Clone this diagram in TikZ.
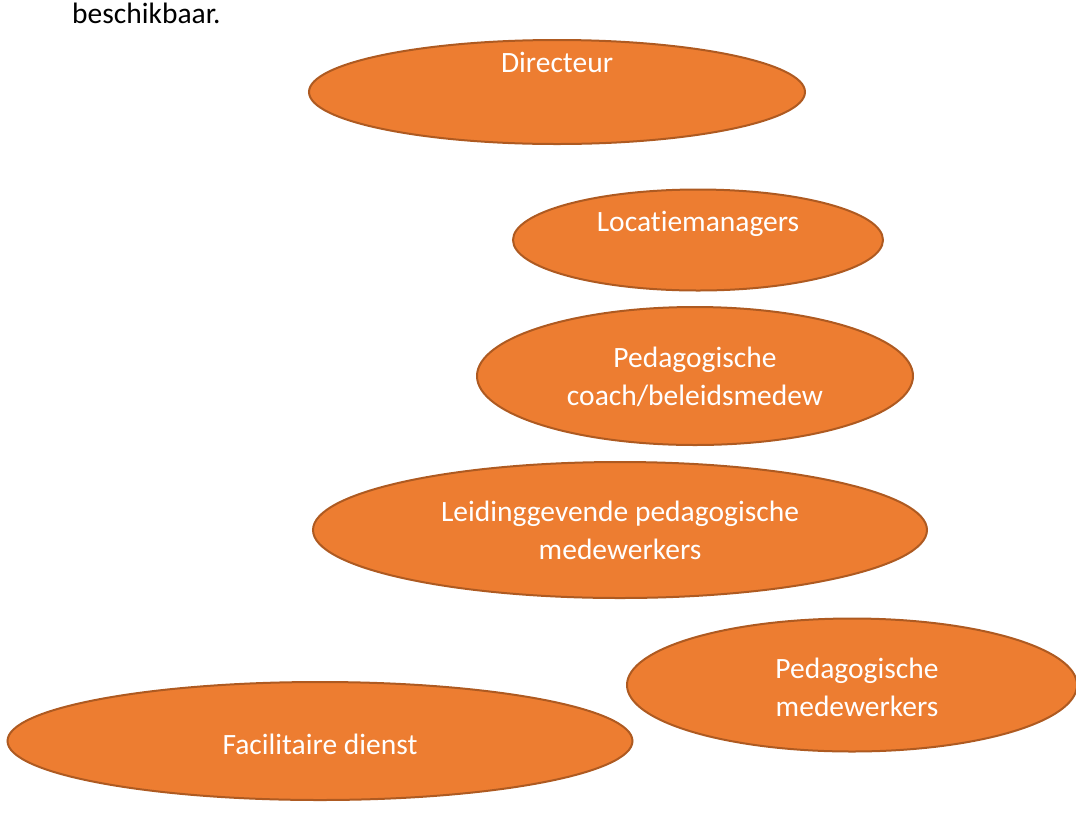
\documentclass[tikz,border=0pt]{standalone}
\usepackage{fontspec}
\setmainfont[Ligatures={NoCommon}]{Carlito}
\usetikzlibrary{shapes.geometric}
\definecolor{orfill}{HTML}{ED7D31}
\definecolor{ordraw}{HTML}{AE5A21}
\tikzset{
  oval/.style={ellipse, fill=orfill, draw=ordraw, line width=2pt, inner sep=0pt},
  lbl/.style={text=white, font=\fontsize{29.5}{37}\selectfont, anchor=base, align=center, inner sep=0pt},
}
\begin{document}
\begin{tikzpicture}[x=1pt,y=-1pt]
\useasboundingbox (0,0) rectangle (1076,820);
\clip (0,0) rectangle (1076,820);
\node[anchor=base west, inner sep=0pt, font=\fontsize{29.5}{33}\selectfont] (intro) at (72,23) {beschikbaar.};
\node[oval, minimum width=496pt, minimum height=104pt] (dir) at (557,92) {};
\node[lbl] (dirt) at (557,72) {Directeur};
\node[oval, minimum width=370pt, minimum height=101pt] (loc) at (698,240) {};
\node[lbl] (loct) at (698,231) {Locatiemanagers};
\node[oval, minimum width=436pt, minimum height=138pt] (coach) at (695,376) {};
\node[lbl] (coacht1) at (695,367) {Pedagogische};
\node[lbl] (coacht2) at (695,405) {coach/beleidsmedew};
\node[oval, minimum width=614pt, minimum height=136pt] (leid) at (620,530) {};
\node[lbl] (leidt1) at (620,521) {Leidinggevende pedagogische};
\node[lbl] (leidt2) at (620,559) {medewerkers};
\node[oval, minimum width=450pt, minimum height=133pt] (pm) at (852,685) {};
\node[lbl] (pmt1) at (857,678) {Pedagogische};
\node[lbl] (pmt2) at (857,716) {medewerkers};
\node[oval, minimum width=625pt, minimum height=118pt] (fac) at (320,741) {};
\node[lbl] (fact) at (320,754) {Facilitaire dienst};
\end{tikzpicture}
\end{document}
